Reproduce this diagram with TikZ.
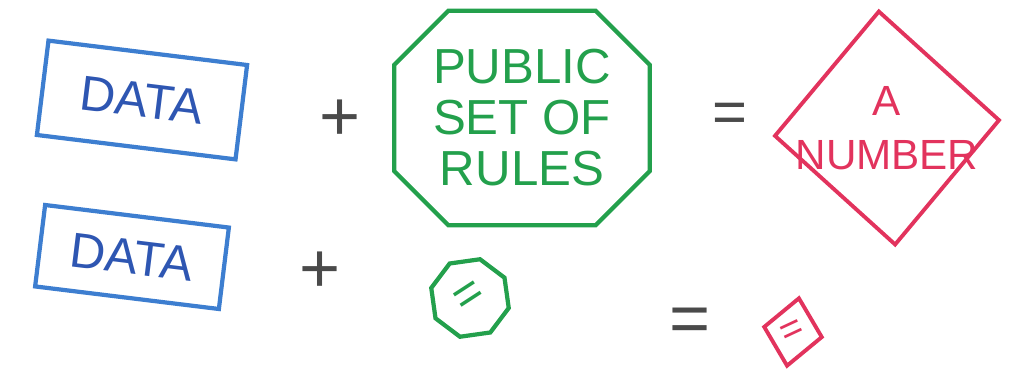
\documentclass[tikz,border=0pt]{standalone}
\usepackage{fontspec}
\setmainfont{Liberation Sans}
\usetikzlibrary{shapes.geometric,shapes.misc}
\definecolor{azul}{HTML}{3D7ED0}
\definecolor{azuloscuro}{HTML}{2E56B2}
\definecolor{verde}{HTML}{23A04C}
\definecolor{rojo}{HTML}{E2335D}
\definecolor{gris}{HTML}{4A4A4A}

\begin{document}
\begin{tikzpicture}[x=0.01cm, y=-0.01cm, font=\fontsize{14}{14.5}\selectfont,
      d/.style={draw=azul, line width=1.2pt, text=azuloscuro, rotate=-7},
      r/.style={chamfered rectangle, draw=verde, text=verde, line width=1.2pt, align=center},
      n/.style={diamond, draw=rojo, line width=1.1pt, inner sep=0pt},
      op/.style={text=gris, font=\fontsize{20}{20}\selectfont}]
    \useasboundingbox (0,0) rectangle (1011,370);
    % top row
    \node[d, minimum width=2cm, minimum height=0.95cm] (data1) at (142,100) {DATA};
    \node[op] (plus1) at (340,120) {+};
    \node[r, minimum width=2.28cm, minimum height=1.86cm,
          chamfered rectangle xsep=0.27cm, chamfered rectangle ysep=0.27cm] (rules) at (522,118)
          {PUBLIC\\SET OF\\RULES};
    \node[op, font=\fontsize{17}{17}\selectfont] (eq1) at (730,118) {=};
    \node[n, minimum width=2.26cm, minimum height=2.35cm, rotate=4] (num) at (887,128) {};
    \node[text=rojo, align=center, font=\fontsize{12}{15.5}\selectfont] (numtxt) at (num.center) {A\\NUMBER};
    % bottom row
    \node[d, minimum width=1.85cm, minimum height=0.82cm] (data2) at (132,257) {DATA};
    \node[op] (plus2) at (320,272) {+};
    \node[draw=verde, text=verde, line width=1.2pt, regular polygon, regular polygon sides=8,
          minimum size=0.8cm, inner sep=0pt, rotate=8] (rules2) at (470,298)
          {\rotatebox{25}{=}};
    \node[op] (eq2) at (690,325) {=};
    \node[n, minimum width=0.6cm, minimum height=0.7cm, rotate=-10, text=rojo] (num2) at (793,332)
          {\rotatebox{35}{\fontsize{11}{11}\selectfont =}};
  \end{tikzpicture}
\end{document}
